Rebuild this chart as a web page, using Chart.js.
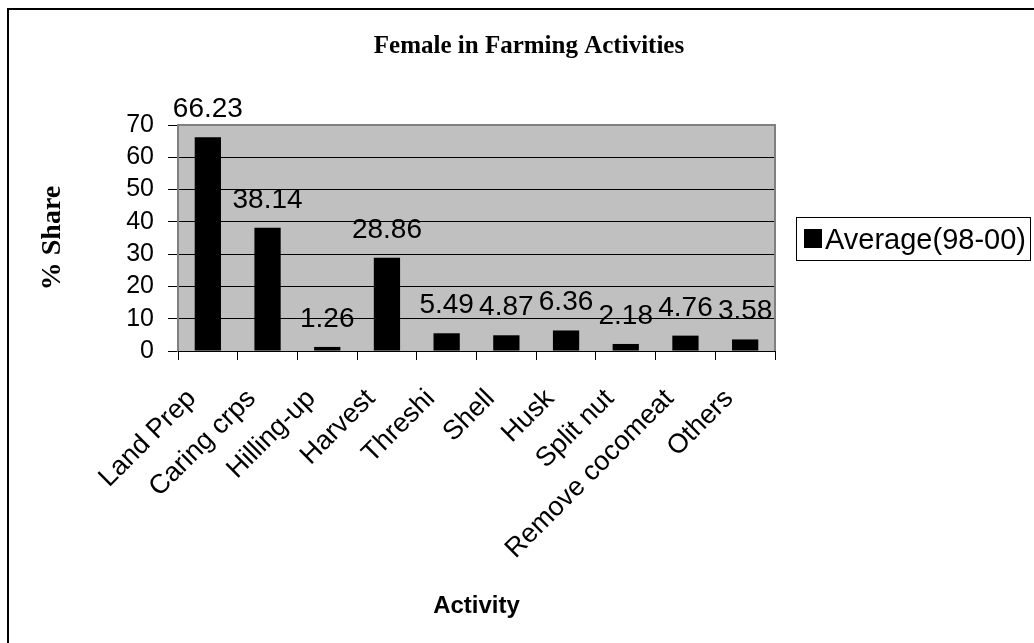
<!DOCTYPE html>
<html>
<head>
<meta charset="utf-8">
<title>Female in Farming Activities</title>
<script src="https://cdn.jsdelivr.net/npm/chart.js@4.4.1/dist/chart.umd.min.js"></script>
<style>
  html, body { margin: 0; padding: 0; background: #fff; }
  #wrap { width: 1034px; height: 643px; }
</style>
</head>
<body>
<div id="wrap"><canvas id="chart" width="1034" height="643"></canvas></div>
<script>
// data
const activities = ["Land Prep", "Caring crps", "Hilling-up", "Harvest", "Threshi", "Shell", "Husk", "Split nut", "Remove cocomeat", "Others"];
const average9800 = [66.23, 38.14, 1.26, 28.86, 5.49, 4.87, 6.36, 2.18, 4.76, 3.58];
const shareTicks = [0, 10, 20, 30, 40, 50, 60, 70];
const seriesName = "Average(98-00)";
const chartTitle = "Female in Farming Activities";

const sans = "'Liberation Sans', Arial, sans-serif";
const serif = "'Liberation Serif', 'Times New Roman', serif";

Chart.defaults.font.family = sans;
Chart.defaults.color = '#000';

// white page, outer frame and grey plot area
const backdrop = {
  id: 'backdrop',
  beforeDraw(chart) {
    const { ctx, chartArea: a } = chart;
    ctx.save();
    ctx.fillStyle = '#fff';
    ctx.fillRect(0, 0, chart.width, chart.height);
    ctx.strokeStyle = '#000';
    ctx.lineWidth = 2;
    ctx.beginPath();
    ctx.moveTo(8, chart.height + 2);
    ctx.lineTo(8, 9);
    ctx.lineTo(chart.width + 2, 9);
    ctx.stroke();
    ctx.fillStyle = '#c0c0c0';
    ctx.fillRect(a.left, a.top, a.right - a.left, a.bottom - a.top);
    ctx.restore();
  }
};

// grey border on top and right of the plot
const plotBorder = {
  id: 'plotBorder',
  beforeDatasetsDraw(chart) {
    const { ctx, chartArea: a } = chart;
    ctx.save();
    ctx.strokeStyle = '#808080';
    ctx.lineWidth = 2;
    ctx.beginPath();
    ctx.moveTo(a.left, a.top);
    ctx.lineTo(a.right, a.top);
    ctx.lineTo(a.right, a.bottom);
    ctx.stroke();
    ctx.restore();
  }
};

// value above every bar
const valueLabels = {
  id: 'valueLabels',
  afterDatasetsDraw(chart) {
    const { ctx } = chart;
    const meta = chart.getDatasetMeta(0);
    ctx.save();
    ctx.font = '28px ' + sans;
    ctx.fillStyle = '#000';
    ctx.textAlign = 'center';
    ctx.textBaseline = 'alphabetic';
    meta.data.forEach((bar, i) => {
      const v = chart.data.datasets[0].data[i];
      ctx.fillText(v.toFixed(2), bar.x, bar.y - 20);
    });
    ctx.restore();
  }
};

// chart title and boxed legend
const titleAndLegend = {
  id: 'titleAndLegend',
  afterDraw(chart) {
    const { ctx } = chart;
    const ds = chart.data.datasets[0];
    ctx.save();
    ctx.fillStyle = '#000';
    ctx.font = 'bold 25px ' + serif;
    ctx.textAlign = 'center';
    ctx.textBaseline = 'alphabetic';
    ctx.fillText(chartTitle, 529, 53);

    ctx.strokeStyle = '#000';
    ctx.lineWidth = 1;
    ctx.strokeRect(796.5, 217.5, 234, 43);
    ctx.fillStyle = ds.backgroundColor;
    ctx.fillRect(804, 229, 18, 19);
    ctx.fillStyle = '#000';
    ctx.font = '29px ' + sans;
    ctx.textAlign = 'left';
    ctx.fillText(ds.label, 825, 249);
    ctx.restore();
  }
};

const ctx = document.getElementById('chart').getContext('2d');
const chart = new Chart(ctx, {
  type: 'bar',
  data: {
    labels: activities,
    datasets: [{
      label: seriesName,
      data: average9800,
      backgroundColor: '#000',
      borderWidth: 0,
      categoryPercentage: 1,
      barPercentage: 0.44
    }]
  },
  options: {
    responsive: false,
    animation: false,
    layout: { padding: { left: 36, top: 125, right: 259, bottom: 20 } },
    plugins: {
      legend: { display: false },
      title: { display: false },
      tooltip: { enabled: false }
    },
    scales: {
      y: {
        min: shareTicks[0],
        max: shareTicks[shareTicks.length - 1],
        afterFit(scale) { scale.width = 142; },
        afterBuildTicks(scale) { scale.ticks = shareTicks.map(v => ({ value: v })); },
        ticks: { font: { size: 25 }, padding: 14, color: '#000', autoSkip: false },
        grid: { color: '#000', lineWidth: 1, tickLength: 10 },
        border: { color: '#808080', width: 2 },
        title: {
          display: true,
          text: '% Share',
          font: { family: serif, size: 28, weight: 'bold' },
          padding: 0,
          color: '#000'
        }
      },
      x: {
        afterFit(scale) { scale.height = 272; },
        ticks: {
          font: { size: 27 },
          minRotation: 45,
          maxRotation: 45,
          autoSkip: false,
          padding: 23,
          labelOffset: -16,
          color: '#000'
        },
        grid: { drawOnChartArea: false, color: '#000', tickLength: 9, offset: true },
        border: { color: '#000', width: 1 },
        title: {
          display: true,
          text: 'Activity',
          font: { size: 24, weight: 'bold' },
          padding: { top: 0, bottom: 2 },
          color: '#000'
        }
      }
    }
  },
  plugins: [backdrop, plotBorder, valueLabels, titleAndLegend]
});
</script>
</body>
</html>
